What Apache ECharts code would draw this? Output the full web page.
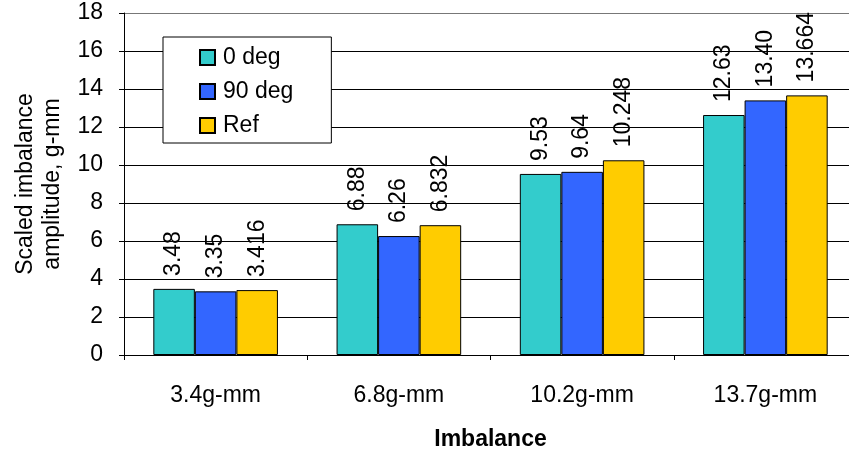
<!DOCTYPE html>
<html>
<head>
<meta charset="utf-8">
<script src="https://cdn.jsdelivr.net/npm/echarts@6/dist/echarts.min.js"></script>
<style>html,body{margin:0;padding:0;background:#fff}#c{width:849px;height:450px}</style>
</head>
<body>
<div id="c"></div>
<script>
const categories = ['3.4g-mm', '6.8g-mm', '10.2g-mm', '13.7g-mm'];
const deg0 = [3.48, 6.88, 9.53, 12.63];
const deg90 = [3.35, 6.26, 9.64, 13.40];
const ref = [3.416, 6.832, 10.248, 13.664];
const labels0 = ['3.48', '6.88', '9.53', '12.63'];
const labels90 = ['3.35', '6.26', '9.64', '13.40'];
const labelsRef = ['3.416', '6.832', '10.248', '13.664'];
const seriesNames = ['0 deg', '90 deg', 'Ref'];
const colors = ['#33CCCC', '#3366FF', '#FFCC00'];

const font = 'Liberation Sans, Arial, sans-serif';
const fs = 23;
function mk(name, data, labs, color) {
  return {
    name: name, type: 'bar', data: data,
    barGap: '0%', barCategoryGap: '32%',
    itemStyle: { color: color, borderColor: '#000', borderWidth: 1 },
    label: {
      show: true, position: 'top', rotate: 90, align: 'left', verticalAlign: 'middle',
      distance: 13, fontFamily: font, fontSize: fs, color: '#000',
      formatter: p => labs[p.dataIndex]
    }
  };
}
const chart = echarts.init(document.getElementById('c'), null, { renderer: 'canvas' });
chart.setOption({
  animation: false,
  textStyle: { fontFamily: font },
  grid: { left: 124, right: -8, top: 13, bottom: 95, containLabel: false, outerBoundsMode: 'none' },
  legend: {
    orient: 'vertical', left: 163, top: 37,
    data: seriesNames,
    backgroundColor: '#fff', borderColor: '#000', borderWidth: 1,
    padding: [9, 38, 6, 36],
    itemGap: 11, itemWidth: 15, itemHeight: 15, icon: 'rect',
    textStyle: { fontFamily: font, fontSize: fs, color: '#000', padding: [0, 0, 0, 3] }
  },
  xAxis: {
    type: 'category', data: categories,
    axisLine: { lineStyle: { color: '#000', width: 1 } },
    axisTick: { show: true, length: 5, lineStyle: { color: '#000' } },
    axisLabel: { margin: 29, fontFamily: font, fontSize: fs, color: '#000' },
    name: 'Imbalance', nameLocation: 'middle', nameGap: 73,
    nameTextStyle: { fontFamily: font, fontSize: fs, fontWeight: 'bold', color: '#000' }
  },
  yAxis: {
    type: 'value', min: 0, max: 18, interval: 2,
    axisLine: { show: true, lineStyle: { color: '#000', width: 1 } },
    axisTick: { show: true, length: 5, lineStyle: { color: '#000' } },
    axisLabel: { margin: 21, fontFamily: font, fontSize: fs, color: '#000' },
    splitLine: { show: true, lineStyle: { color: ['#000','#000','#000','#000','#000','#000','#000','#000','#000','#777'], width: 1 } },
    name: 'Scaled imbalance\namplitude, g-mm', nameLocation: 'middle', nameGap: 58,
    nameTextStyle: { fontFamily: font, fontSize: fs, color: '#000', lineHeight: 27 }
  },
  series: [
    mk(seriesNames[0], deg0, labels0, colors[0]),
    mk(seriesNames[1], deg90, labels90, colors[1]),
    mk(seriesNames[2], ref, labelsRef, colors[2])
  ]
});
</script>
</body>
</html>
